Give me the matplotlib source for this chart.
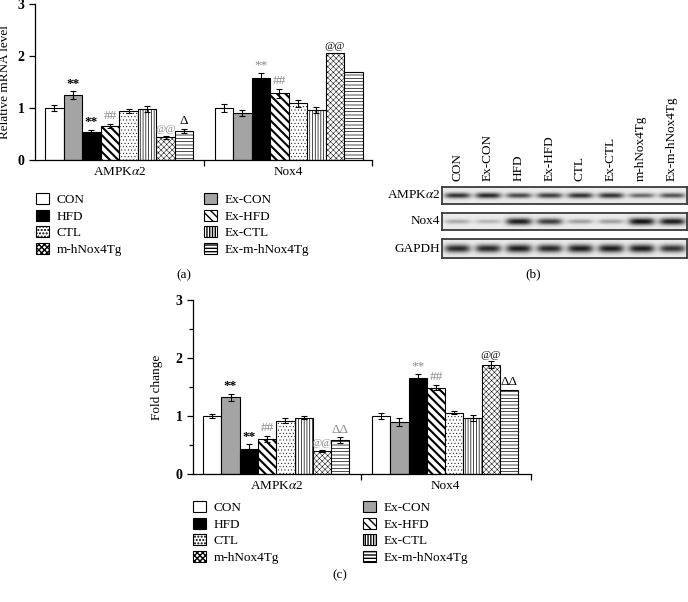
import matplotlib
matplotlib.use("Agg")
import matplotlib.pyplot as plt
import numpy as np
from matplotlib.patches import Patch
from matplotlib.transforms import blended_transform_factory

plt.rcParams["font.family"] = ["Liberation Serif", "DejaVu Serif"]
plt.rcParams["mathtext.fontset"] = "stix"
plt.rcParams["font.size"] = 9

GROUPS = ["CON", "Ex-CON", "HFD", "Ex-HFD", "CTL", "Ex-CTL", "m-hNox4Tg", "Ex-m-hNox4Tg"]
GENES = ["AMPK$\\alpha$2", "Nox4"]

# (a) relative mRNA level
mrna_ampk = [1.00, 1.25, 0.54, 0.66, 0.95, 0.98, 0.44, 0.56]
mrna_ampk_err = [0.06, 0.07, 0.04, 0.04, 0.04, 0.06, 0.03, 0.04]
mrna_nox4 = [1.00, 0.91, 1.57, 1.28, 1.09, 0.96, 2.06, 1.69]
mrna_nox4_err = [0.08, 0.06, 0.10, 0.09, 0.07, 0.06, 0.0, 0.0]
mrna_ampk_marks = ["", "**", "**", "##", "", "", "@@", "Δ"]
mrna_nox4_marks = ["", "", "**", "##", "", "", "@@", ""]
mrna_ampk_gray = [0, 0, 0, 1, 0, 0, 1, 0]
mrna_nox4_gray = [0, 0, 1, 1, 0, 0, 0, 0]

# (c) protein fold change
fold_ampk = [1.00, 1.32, 0.43, 0.61, 0.92, 0.97, 0.40, 0.58]
fold_ampk_err = [0.04, 0.06, 0.08, 0.05, 0.04, 0.03, 0.02, 0.05]
fold_nox4 = [1.00, 0.89, 1.65, 1.49, 1.06, 0.97, 1.88, 1.45]
fold_nox4_err = [0.06, 0.07, 0.08, 0.05, 0.02, 0.05, 0.06, 0.0]
fold_ampk_marks = ["", "**", "**", "##", "", "", "@@", "ΔΔ"]
fold_nox4_marks = ["", "", "**", "##", "", "", "@@", "ΔΔ"]
fold_ampk_gray = [0, 0, 0, 1, 0, 0, 1, 1]
fold_nox4_gray = [0, 0, 1, 1, 0, 0, 0, 0]

# (b) western blot band darkness per lane
BLOT_ROWS = ["AMPK$\\alpha$2", "Nox4", "GAPDH"]
blot_ampk = [0.85, 0.90, 0.75, 0.80, 0.85, 0.85, 0.60, 0.70]
blot_nox4 = [0.30, 0.25, 0.95, 0.80, 0.35, 0.35, 1.00, 0.95]
blot_gapdh = [0.90, 0.90, 0.95, 0.90, 0.95, 0.95, 0.95, 0.85]

STYLE = {
    "CON": dict(fc="white", hatch=None, hlw=0.6),
    "Ex-CON": dict(fc="#a4a4a4", hatch=None, hlw=0.6),
    "HFD": dict(fc="black", hatch=None, hlw=0.6),
    "Ex-HFD": dict(fc="white", hatch="\\\\\\\\", hlw=1.5),
    "CTL": dict(fc="white", hatch=".....", hlw=0.3),
    "Ex-CTL": dict(fc="white", hatch="||||||", hlw=0.5),
    "m-hNox4Tg": dict(fc="white", hatch="xxxxxx", hlw=0.35),
    "Ex-m-hNox4Tg": dict(fc="white", hatch="-----", hlw=0.5),
}


def px(x, y):
    return x / 688, 1 - y / 602


fig = plt.figure(figsize=(6.88, 6.02), dpi=100)


def bar_panel(ax, ampk, ampk_err, nox4, nox4_err, marks, grays, starts, xmax, mid, minor):
    for i, g in enumerate(GROUPS):
        st = STYLE[g]
        xs = [starts[0] + i + 0.5, starts[1] + i + 0.5]
        with plt.rc_context({"hatch.linewidth": st["hlw"]}):
            bars = ax.bar(xs, [ampk[i], nox4[i]], width=1, facecolor=st["fc"],
                          edgecolor="black", linewidth=0.8, hatch=st["hatch"], zorder=2)
        for b in bars:
            if hasattr(b, "set_hatch_linewidth"):
                b.set_hatch_linewidth(st["hlw"])
        for x, v, e, mk, gr in zip(xs, [ampk[i], nox4[i]], [ampk_err[i], nox4_err[i]],
                                   [marks[0][i], marks[1][i]], [grays[0][i], grays[1][i]]):
            if e > 0:
                ax.errorbar(x, v, yerr=e, color="black", elinewidth=0.8, capsize=2.2,
                            capthick=0.8, zorder=3)
            if mk:
                ax.text(x, v + e + 0.03, mk, ha="center", va="bottom",
                        color="#8a8a8a" if gr else "black",
                        fontsize=8 if mk.startswith("@") else 9.5,
                        fontweight="bold" if mk == "**" and not gr else "normal")
    ax.set_xlim(0, xmax)
    ax.set_ylim(0, 3)
    for s in ["top", "right"]:
        ax.spines[s].set_visible(False)
    for s in ["left", "bottom"]:
        ax.spines[s].set_linewidth(0.9)
    ax.set_xticks([mid, xmax])
    ax.set_xticklabels([])
    ax.tick_params(axis="x", which="major", length=4, width=0.9, direction="out")
    ax.set_xticks([starts[0] + 4, starts[1] + 4], GENES, minor=True)
    ax.tick_params(axis="x", which="minor", length=0, pad=4, labelsize=9.5)
    ax.set_yticks([0, 1, 2, 3])
    ax.tick_params(axis="y", which="major", length=4, width=0.9, direction="out", labelsize=10)
    for t in ax.get_yticklabels():
        t.set_fontweight("bold")
    if minor:
        ax.set_yticks([0.5, 1.5, 2.5], minor=True)
        ax.tick_params(axis="y", which="minor", length=3, width=0.9)


def legend_pair(x_left, x_right, y_top):
    handles = []
    for g in GROUPS:
        st = STYLE[g]
        handles.append(Patch(facecolor=st["fc"], edgecolor="black", hatch=st["hatch"],
                             linewidth=0.8, label=g))
    cols = [handles[0::2], handles[1::2]]
    for hs, xl in zip(cols, [x_left, x_right]):
        fig.legend(handles=hs, loc="upper left", bbox_to_anchor=px(xl, y_top),
                   frameon=False, borderpad=0, borderaxespad=0, fontsize=9.5,
                   handlelength=0.95, handleheight=0.95, handletextpad=0.6,
                   labelspacing=0.25)


# panel (a)
l, b = px(35, 160)
ax_a = fig.add_axes([l, b, 337 / 688, 156 / 602])
bar_panel(ax_a, mrna_ampk, mrna_ampk_err, mrna_nox4, mrna_nox4_err,
          [mrna_ampk_marks, mrna_nox4_marks], [mrna_ampk_gray, mrna_nox4_gray],
          starts=(0.55, 9.7), xmax=18.2, mid=9.12, minor=False)
ax_a.set_ylabel("Relative mRNA level", fontsize=9.5)
ax_a.yaxis.set_label_coords(-0.072, 0.5)
legend_pair(36, 204, 193)
fig.text(*px(184, 275), "(a)", ha="center", va="center", fontsize=9.5)

# panel (c)
l, b = px(193, 474)
ax_c = fig.add_axes([l, b, 338 / 688, 174 / 602])
bar_panel(ax_c, fold_ampk, fold_ampk_err, fold_nox4, fold_nox4_err,
          [fold_ampk_marks, fold_nox4_marks], [fold_ampk_gray, fold_nox4_gray],
          starts=(0.55, 9.78), xmax=18.47, mid=9.18, minor=True)
ax_c.set_ylabel("Fold change", fontsize=9.5)
ax_c.yaxis.set_label_coords(-0.09, 0.5)
legend_pair(193, 363, 501)
fig.text(*px(340, 575), "(c)", ha="center", va="center", fontsize=9.5)

# panel (b) western blot
row_boxes = [(187, 204), (213, 230), (239, 258)]
row_thick = [0.36, 0.42, 0.45]
blot_axes = []
for name, dark, (y0, y1), th in zip(BLOT_ROWS, [blot_ampk, blot_nox4, blot_gapdh],
                                    row_boxes, row_thick):
    l, b = px(442, y1)
    ax = fig.add_axes([l, b, 245 / 688, (y1 - y0) / 602])
    h, w = 40, 490
    yy = np.linspace(-1, 1, h)[:, None]
    xx = np.linspace(0, len(dark), w)[None, :]
    img = np.full((h, w), 0.92)
    for i, d in enumerate(dark):
        lane = np.exp(-((xx - (i + 0.5)) / 0.42) ** 4)
        prof = np.exp(-(yy / (th * (0.5 + 0.5 * d))) ** 2)
        img = img - 0.85 * d * lane * prof
    ax.imshow(img, cmap="gray", vmin=0, vmax=1, aspect="auto",
              extent=(0, len(dark), 0, 1), interpolation="bilinear")
    ax.set_xticks([])
    ax.set_yticks([])
    for s in ax.spines.values():
        s.set_linewidth(1.3)
        s.set_color("#3a3a3a")
    ax.text(-0.008, 0.5, name, transform=ax.transAxes, ha="right", va="center",
            fontsize=9.5)
    blot_axes.append(ax)

top = blot_axes[0]
trans = blended_transform_factory(top.transData, top.transAxes)
for i, g in enumerate(GROUPS):
    top.annotate(g, xy=(i + 0.5, 1), xycoords=trans, xytext=(0, 4),
                 textcoords="offset points", rotation=90, ha="center", va="bottom",
                 fontsize=9.5)
fig.text(*px(533, 274), "(b)", ha="center", va="center", fontsize=9.5)

fig.savefig("out.png", dpi=100)
